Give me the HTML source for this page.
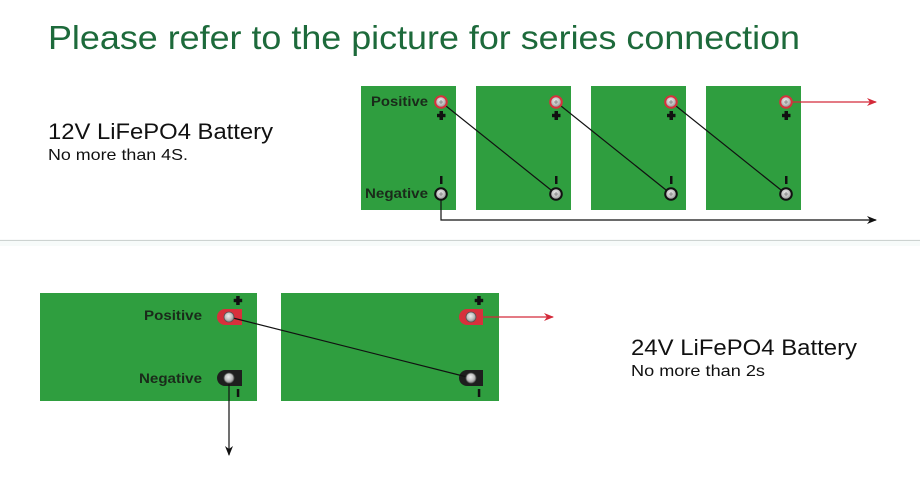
<!DOCTYPE html>
<html><head><meta charset="utf-8"><style>
html,body{margin:0;padding:0;background:#fff;}
svg{display:block;}
</style></head><body>
<svg width="920" height="480" viewBox="0 0 920 480" xmlns="http://www.w3.org/2000/svg" font-family="Liberation Sans, Arial, sans-serif">
<defs>
<radialGradient id="scr" cx="0.45" cy="0.4" r="0.6">
<stop offset="0" stop-color="#eeeeee"/><stop offset="0.6" stop-color="#bdbdbd"/><stop offset="1" stop-color="#858585"/>
</radialGradient>
<marker id="ab" markerWidth="10" markerHeight="8" refX="9" refY="4" orient="auto" markerUnits="userSpaceOnUse">
<path d="M0,0 L10,4 L0,8 L3,4 Z" fill="#111"/></marker>
<marker id="ar" markerWidth="10" markerHeight="8" refX="9" refY="4" orient="auto" markerUnits="userSpaceOnUse">
<path d="M0,0 L10,4 L0,8 L3,4 Z" fill="#d42a3a"/></marker>
</defs>
<rect width="920" height="480" fill="#fff"/>
<text x="48" y="49" font-size="33" fill="#1d6a3b" textLength="752" lengthAdjust="spacingAndGlyphs">Please refer to the picture for series connection</text>
<text x="48" y="139" font-size="22" fill="#111" textLength="225" lengthAdjust="spacingAndGlyphs">12V LiFePO4 Battery</text>
<text x="48" y="160" font-size="16" fill="#111" textLength="140" lengthAdjust="spacingAndGlyphs">No more than 4S.</text>
<line x1="0" y1="240.5" x2="920" y2="240.5" stroke="#cdd3d1" stroke-width="1.2"/>
<rect x="0" y="241" width="920" height="5" fill="#f7fbfa"/>

<!-- top row batteries -->
<g fill="#2f9e3f">
<rect x="361" y="86" width="95" height="124"/>
<rect x="476" y="86" width="95" height="124"/>
<rect x="591" y="86" width="95" height="124"/>
<rect x="706" y="86" width="95" height="124"/>
</g>
<text x="371" y="106" font-size="13.5" font-weight="bold" fill="#1a2a1a" textLength="57" lengthAdjust="spacingAndGlyphs">Positive</text>
<text x="365" y="198" font-size="13.5" font-weight="bold" fill="#1a2a1a" textLength="63" lengthAdjust="spacingAndGlyphs">Negative</text>
<!-- plus / minus -->
<g fill="#111">
<g id="pm1">
<rect x="439.5" y="111" width="3.5" height="9"/><rect x="437" y="113.8" width="8.5" height="3.4"/>
<rect x="440" y="176" width="2.5" height="8"/>
</g>
<use href="#pm1" x="115"/><use href="#pm1" x="230"/><use href="#pm1" x="345"/>
</g>
<!-- wires -->
<g stroke="#111" stroke-width="1.2" fill="none">
<line x1="441" y1="102" x2="556" y2="194"/>
<line x1="556" y1="102" x2="671" y2="194"/>
<line x1="671" y1="102" x2="786" y2="194"/>
<polyline points="441,194 441,220 876,220" marker-end="url(#ab)"/>
</g>
<line x1="792" y1="102" x2="876" y2="102" stroke="#d42a3a" stroke-width="1.2" marker-end="url(#ar)"/>
<!-- screws top -->
<g>
<g id="sp"><circle cx="441" cy="102" r="5.8" fill="url(#scr)" stroke="#d8303c" stroke-width="2"/><path d="M439,102h4M441,100v4" stroke="#777" stroke-width="0.8"/></g>
<use href="#sp" x="115"/><use href="#sp" x="230"/><use href="#sp" x="345"/>
<g id="sn"><circle cx="441" cy="194" r="5.8" fill="url(#scr)" stroke="#111" stroke-width="2"/><path d="M439,194h4M441,192v4" stroke="#777" stroke-width="0.8"/></g>
<use href="#sn" x="115"/><use href="#sn" x="230"/><use href="#sn" x="345"/>
</g>

<!-- bottom row -->
<rect x="40" y="293" width="217" height="108" fill="#2f9e3f"/>
<rect x="281" y="293" width="218" height="108" fill="#2f9e3f"/>
<text x="202" y="320" font-size="13.5" font-weight="bold" fill="#1a2a1a" text-anchor="end" textLength="58" lengthAdjust="spacingAndGlyphs">Positive</text>
<text x="202" y="383" font-size="13.5" font-weight="bold" fill="#1a2a1a" text-anchor="end" textLength="63" lengthAdjust="spacingAndGlyphs">Negative</text>
<!-- tabs -->
<path d="M225,309 H242 V325 H225 A8,8 0 0 1 225,309 Z" fill="#d8303c"/>
<path d="M225,370 H242 V386 H225 A8,8 0 0 1 225,370 Z" fill="#1e1e1e"/>
<path d="M467,309 H483 V325 H467 A8,8 0 0 1 467,309 Z" fill="#d8303c"/>
<path d="M467,370 H483 V386 H467 A8,8 0 0 1 467,370 Z" fill="#1e1e1e"/>
<g fill="#111">
<rect x="236.2" y="296" width="3.5" height="9"/><rect x="233.7" y="298.8" width="8.5" height="3.4"/>
<rect x="236.8" y="389" width="2.5" height="8"/>
<rect x="477.2" y="296" width="3.5" height="9"/><rect x="474.7" y="298.8" width="8.5" height="3.4"/>
<rect x="477.8" y="389" width="2.5" height="8"/>
</g>
<!-- wires bottom -->
<line x1="229" y1="317" x2="471" y2="378" stroke="#111" stroke-width="1.2"/>
<line x1="229" y1="378" x2="229" y2="455" stroke="#111" stroke-width="1.2" marker-end="url(#ab)"/>
<line x1="483" y1="317" x2="553" y2="317" stroke="#d42a3a" stroke-width="1.2" marker-end="url(#ar)"/>
<g>
<circle cx="229" cy="317" r="5" fill="url(#scr)" stroke="#555" stroke-width="0.8"/>
<circle cx="229" cy="378" r="5" fill="url(#scr)" stroke="#555" stroke-width="0.8"/>
<circle cx="471" cy="317" r="5" fill="url(#scr)" stroke="#555" stroke-width="0.8"/>
<circle cx="471" cy="378" r="5" fill="url(#scr)" stroke="#555" stroke-width="0.8"/>
</g>
<text x="631" y="355" font-size="22" fill="#111" textLength="226" lengthAdjust="spacingAndGlyphs">24V LiFePO4 Battery</text>
<text x="631" y="376" font-size="16" fill="#111" textLength="134" lengthAdjust="spacingAndGlyphs">No more than 2s</text>
</svg>
</body></html>
